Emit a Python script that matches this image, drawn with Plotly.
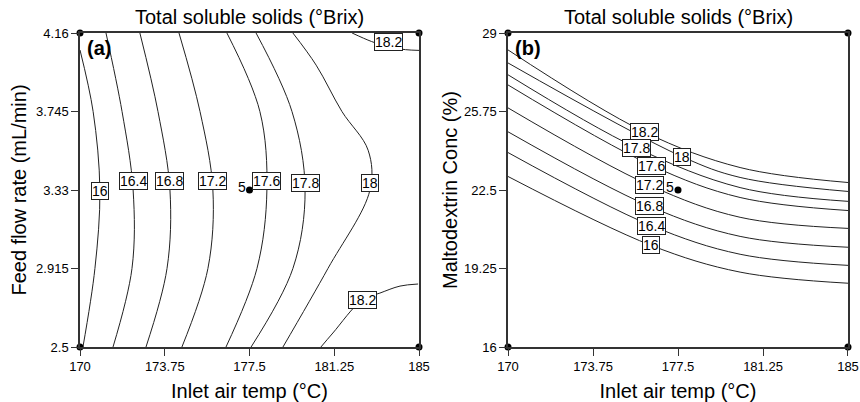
import plotly.graph_objects as go

# ---------------- data ----------------
# Panel (a): Inlet air temp (°C) vs Feed flow rate (mL/min); contour lines traced (T, F)
a_levels = ["16", "16.4", "16.8", "17.2", "17.6", "17.8", "18", "18.2", "18.2"]
a_T = [
    [170.0, 170.58, 170.88, 170.66, 170.13],
    [171.15, 171.86, 172.35, 172.30, 171.46],
    [172.65, 173.45, 173.98, 173.85, 172.92],
    [174.38, 175.31, 175.88, 175.66, 174.51],
    [176.50, 177.96, 178.27, 177.83, 176.46],
    [177.79, 179.38, 179.96, 179.42, 177.57],
    [179.42, 180.45, 181.59, 182.75, 182.83, 180.97, 178.98],
    [182.04, 182.90, 183.70, 184.40, 185.0],
    [180.66, 181.19, 182.48, 183.27, 184.16, 184.96],
]
a_F = [
    [4.07, 3.745, 3.33, 2.915, 2.5],
    [4.16, 3.745, 3.33, 2.915, 2.5],
    [4.16, 3.745, 3.33, 2.915, 2.5],
    [4.16, 3.745, 3.33, 2.915, 2.5],
    [4.16, 3.745, 3.33, 2.915, 2.5],
    [4.16, 3.745, 3.33, 2.915, 2.5],
    [4.16, 3.99, 3.745, 3.54, 3.33, 2.915, 2.5],
    [4.16, 4.115, 4.085, 4.072, 4.068],
    [2.5, 2.574, 2.748, 2.785, 2.822, 2.833],
]
a_lab_text = ["16", "16.4", "16.8", "17.2", "17.6", "17.8", "18", "18.2", "18.2"]
a_lab_T = [170.88, 172.35, 173.98, 175.88, 178.27, 179.96, 182.83, 183.67, 182.48]
a_lab_F = [3.325, 3.378, 3.378, 3.378, 3.378, 3.367, 3.367, 4.112, 2.748]

# Panel (b): Inlet air temp (°C) vs Maltodextrin Conc (%); contour lines traced (T, M)
b_levels = ["18.2", "18", "17.8", "17.6", "17.2", "16.8", "16.4", "16"]
b_T = [
    [170.0, 176.0, 180.24, 185.0],
    [170.0, 177.68, 180.24, 185.0],
    [170.0, 175.65, 180.24, 185.0],
    [170.0, 176.35, 180.24, 185.0],
    [170.0, 176.26, 180.24, 185.0],
    [170.0, 176.26, 180.24, 185.0],
    [170.0, 176.31, 180.24, 185.0],
    [170.0, 176.31, 180.24, 185.0],
]
b_M = [
    [28.30, 24.91, 23.43, 22.81],
    [27.76, 23.88, 23.02, 22.44],
    [27.27, 24.25, 22.60, 22.03],
    [26.85, 23.51, 22.19, 21.65],
    [25.90, 22.69, 21.37, 20.91],
    [24.91, 21.82, 20.58, 20.13],
    [24.05, 21.03, 19.84, 19.38],
    [23.06, 20.21, 19.10, 18.64],
]
b_lab_text = ["18.2", "17.8", "18", "17.6", "17.2", "16.8", "16.4", "16"]
b_lab_T = [176.0, 175.65, 177.68, 176.35, 176.26, 176.26, 176.31, 176.31]
b_lab_M = [24.91, 24.25, 23.88, 23.51, 22.69, 21.82, 21.03, 20.21]

x_ticks = [170, 173.75, 177.5, 181.25, 185]
x_ticktext = ["170", "173.75", "177.5", "181.25", "185"]
a_yticks = [2.5, 2.915, 3.33, 3.745, 4.16]
a_yticktext = ["2.5", "2.915", "3.33", "3.745", "4.16"]
b_yticks = [16, 19.25, 22.5, 25.75, 29]
b_yticktext = ["16", "19.25", "22.5", "25.75", "29"]

center_a = (177.5, 3.33)
center_b = (177.5, 22.5)
center_reps = "5"

# ---------------- figure ----------------
FONT = "Liberation Sans, Arial, sans-serif"
fig = go.Figure()
LINE = dict(color="#222222", width=1, shape="spline", smoothing=1.0)

for xs, ys in zip(a_T, a_F):
    fig.add_trace(go.Scatter(x=xs, y=ys, mode="lines", line=LINE, xaxis="x", yaxis="y",
                             hoverinfo="skip", showlegend=False))
for xs, ys in zip(b_T, b_M):
    fig.add_trace(go.Scatter(x=xs, y=ys, mode="lines", line=LINE, xaxis="x2", yaxis="y2",
                             hoverinfo="skip", showlegend=False))

# corner + center points
fig.add_trace(go.Scatter(x=[170, 170, 185, 185, center_a[0]], y=[2.5, 4.16, 2.5, 4.16, center_a[1]],
                         mode="markers", marker=dict(color="black", size=7), cliponaxis=False,
                         xaxis="x", yaxis="y", showlegend=False, hoverinfo="skip"))
fig.add_trace(go.Scatter(x=[170, 170, 185, 185, center_b[0]], y=[16, 29, 16, 29, center_b[1]],
                         mode="markers", marker=dict(color="black", size=7), cliponaxis=False,
                         xaxis="x2", yaxis="y2", showlegend=False, hoverinfo="skip"))

LABFONT = dict(family=FONT, size=14, color="black")
ann = []
for t, x, y in zip(a_lab_text, a_lab_T, a_lab_F):
    ann.append(dict(x=x, y=y, xref="x", yref="y", text=t, showarrow=False, font=LABFONT,
                    bgcolor="white", bordercolor="#222", borderwidth=1, borderpad=0))
for t, x, y in zip(b_lab_text, b_lab_T, b_lab_M):
    ann.append(dict(x=x, y=y, xref="x2", yref="y2", text=t, showarrow=False, font=LABFONT,
                    bgcolor="white", bordercolor="#222", borderwidth=1, borderpad=0))
ann.append(dict(x=center_a[0], y=center_a[1], xref="x", yref="y", text=center_reps, showarrow=False,
                xanchor="right", yanchor="bottom", xshift=-2, yshift=-7, font=LABFONT))
ann.append(dict(x=center_b[0], y=center_b[1], xref="x2", yref="y2", text=center_reps, showarrow=False,
                xanchor="right", yanchor="bottom", xshift=-2, yshift=-7, font=LABFONT))
# panel letters
ann.append(dict(x=0.0, y=1.0, xref="x domain", yref="y domain", text="<b>(a)</b>", showarrow=False,
                xanchor="left", yanchor="top", xshift=5, yshift=-2,
                font=dict(family=FONT, size=20, color="black")))
ann.append(dict(x=0.0, y=1.0, xref="x2 domain", yref="y2 domain", text="<b>(b)</b>", showarrow=False,
                xanchor="left", yanchor="top", xshift=5, yshift=-2,
                font=dict(family=FONT, size=20, color="black")))
# panel titles
for xr, yr in (("x domain", "y domain"), ("x2 domain", "y2 domain")):
    ann.append(dict(x=0.5, y=1.0, xref=xr, yref=yr, text="Total soluble solids (°Brix)",
                    showarrow=False, xanchor="center", yanchor="bottom", yshift=3,
                    font=dict(family=FONT, size=20, color="black")))

axis_common = dict(showgrid=False, zeroline=False, showline=True, linecolor="#333", linewidth=1.5,
                   mirror=True, ticks="outside", ticklen=7, tickcolor="#333", automargin=False,
                   ticklabeloverflow="allow",
                   tickfont=dict(family=FONT, size=13, color="black"))
TFONT = dict(family=FONT, size=20, color="black")

fig.update_layout(
    width=860, height=402, margin=dict(l=80, r=12, t=33, b=55),
    paper_bgcolor="white", plot_bgcolor="white", showlegend=False,
    font=dict(family=FONT, color="black"),
    xaxis=dict(domain=[0, 0.4414], range=[170, 185], tickvals=x_ticks, ticktext=x_ticktext,
               title=dict(text="Inlet air temp (°C)", font=TFONT, standoff=14),
               anchor="y", **axis_common),
    yaxis=dict(domain=[0, 1], range=[2.5, 4.16], tickvals=a_yticks, ticktext=a_yticktext,
               title=dict(text="Feed flow rate (mL/min)", font=TFONT, standoff=4),
               anchor="x", **axis_common),
    xaxis2=dict(domain=[0.5573, 1.0], range=[170, 185], tickvals=x_ticks, ticktext=x_ticktext,
                title=dict(text="Inlet air temp (°C)", font=TFONT, standoff=14),
                anchor="y2", **axis_common),
    yaxis2=dict(domain=[0, 1], range=[16, 29], tickvals=b_yticks, ticktext=b_yticktext,
                title=dict(text="Maltodextrin Conc (%)", font=TFONT, standoff=1),
                anchor="x2", **axis_common),
    annotations=ann,
)

fig.write_html(
    "out.html",
    config={"displayModeBar": False},
    post_script="document.body.style.margin='0';document.body.style.overflow='hidden';",
)
